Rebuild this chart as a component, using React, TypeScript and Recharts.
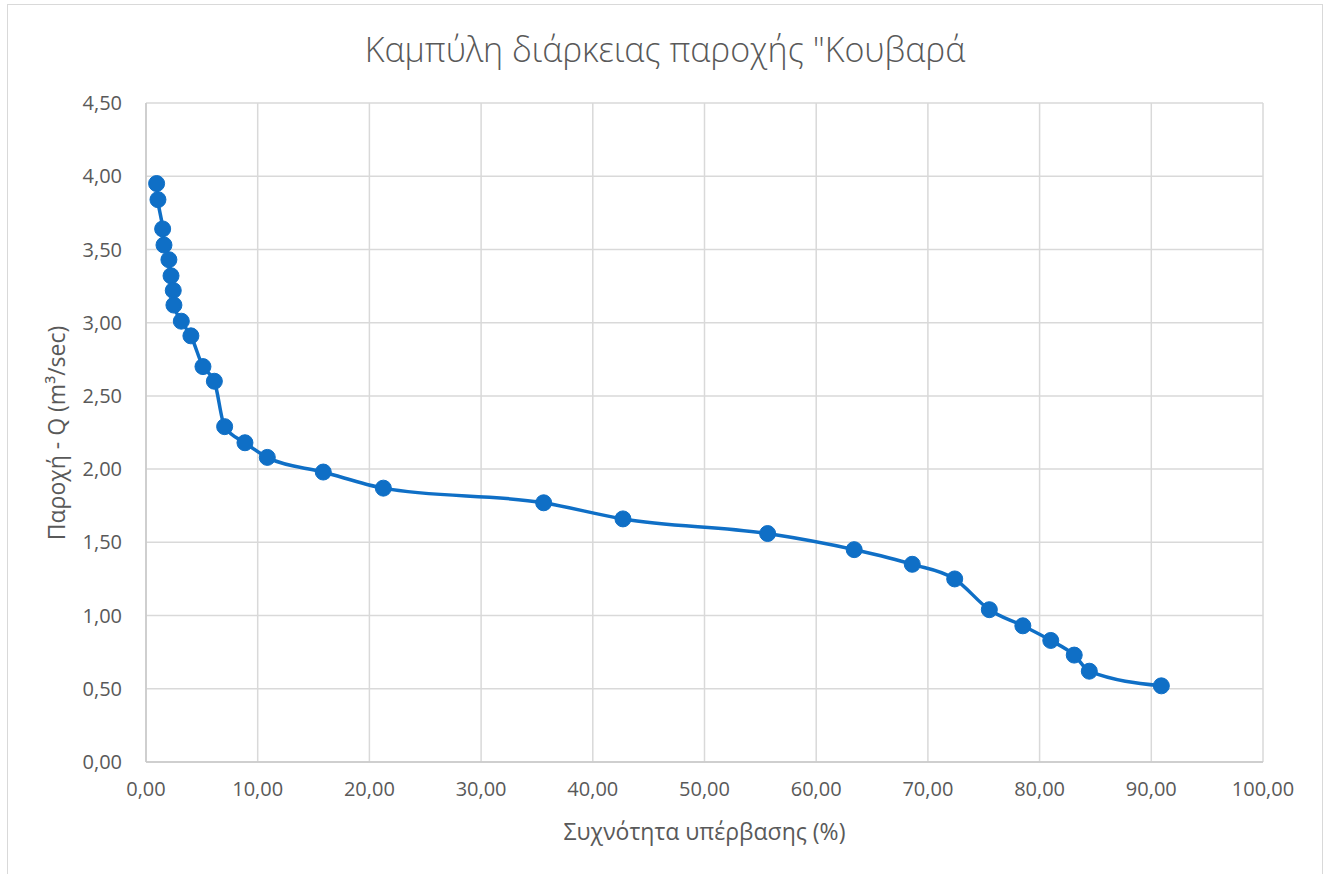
import { CartesianGrid, Line, LineChart, XAxis, YAxis } from "recharts"

// flow duration curve: exceedance frequency (%) vs discharge (m3/sec)
const exceedance = [
  0.95, 1.07, 1.49, 1.61, 2.05, 2.24, 2.44, 2.5, 3.16, 4.02, 5.1, 6.12, 7.04, 8.86, 10.86,
  15.87, 21.25, 35.6, 42.7, 55.65, 63.4, 68.6, 72.4, 75.5, 78.5, 81.0, 83.1, 84.45, 90.9,
]
const discharge = [
  3.95, 3.84, 3.64, 3.53, 3.43, 3.32, 3.22, 3.12, 3.01, 2.91, 2.7, 2.6, 2.29, 2.18, 2.08,
  1.98, 1.87, 1.77, 1.66, 1.56, 1.45, 1.35, 1.25, 1.04, 0.93, 0.83, 0.73, 0.62, 0.52,
]
const xTicks = [0, 10, 20, 30, 40, 50, 60, 70, 80, 90, 100]
const yTicks = [0, 0.5, 1, 1.5, 2, 2.5, 3, 3.5, 4, 4.5]

const title = 'Καμπύλη διάρκειας παροχής "Κουβαρά'
const xTitle = "Συχνότητα υπέρβασης (%)"
const yTitle = "Παροχή - Q (m³/sec)"

const data = exceedance.map((x, i) => ({ x, q: discharge[i] }))

const blue = "#0F6FC6"
const grid = "#d9d9d9"
const textGray = "#595959"
const font = "'Open Sans', sans-serif"

const fmt = (v: number) => v.toFixed(2).replace(".", ",")

export default function App() {
  return (
    <div
      style={{
        position: "absolute",
        left: 0,
        top: 0,
        width: 1330,
        height: 874,
        background: "#fff",
        overflow: "hidden",
        fontFamily: font,
      }}
    >
      <div
        style={{
          position: "absolute",
          left: 7,
          top: 4,
          width: 1314,
          height: 900,
          border: `1px solid ${grid}`,
        }}
      />
      <LineChart
        width={1330}
        height={874}
        data={data}
        margin={{ top: 103, right: 67, bottom: 82, left: 86 }}
        style={{ position: "absolute", left: 0, top: 0 }}
      >
        <CartesianGrid stroke={grid} strokeWidth={1.5} />
        <XAxis
          type="number"
          dataKey="x"
          domain={[0, 100]}
          ticks={xTicks}
          tickFormatter={fmt}
          height={30}
          axisLine={{ stroke: "#c8c8c8", strokeWidth: 1.5 }}
          tickLine={false}
          tickMargin={14}
          tick={{ fill: textGray, fontSize: 20, fontFamily: font }}
        />
        <YAxis
          type="number"
          dataKey="q"
          domain={[0, 4.5]}
          ticks={yTicks}
          tickFormatter={fmt}
          width={60}
          axisLine={{ stroke: "#c8c8c8", strokeWidth: 1.5 }}
          tickLine={false}
          tickMargin={18}
          tick={{ fill: textGray, fontSize: 20, fontFamily: font }}
        />
        <Line
          type="monotone"
          dataKey="q"
          stroke={blue}
          strokeWidth={3.5}
          dot={{ r: 8, fill: blue, stroke: blue, strokeWidth: 1 }}
          activeDot={false}
          isAnimationActive={false}
        />
      </LineChart>
      <div
        style={{
          position: "absolute",
          left: 0,
          width: 1330,
          top: 26,
          textAlign: "center",
          fontSize: 34,
          color: textGray,
          fontWeight: 300,
        }}
      >
        {title}
      </div>
      <div
        style={{
          position: "absolute",
          left: 146,
          width: 1117,
          top: 815,
          textAlign: "center",
          fontSize: 23,
          color: textGray,
        }}
      >
        {xTitle}
      </div>
      <div
        style={{
          position: "absolute",
          left: 56,
          top: 433,
          transform: "translate(-50%, -50%) rotate(-90deg)",
          whiteSpace: "nowrap",
          fontSize: 23,
          color: textGray,
        }}
      >
        {yTitle}
      </div>
    </div>
  )
}
